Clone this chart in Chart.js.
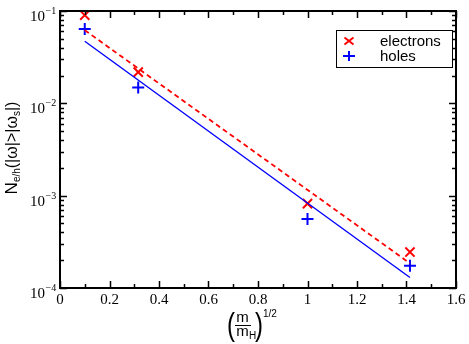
<!DOCTYPE html>
<html><head><meta charset="utf-8">
<script src="https://cdn.jsdelivr.net/npm/chart.js@4.4.0/dist/chart.umd.min.js"></script>
<style>html,body{margin:0;padding:0;background:#fff}canvas{display:block}</style>
</head><body><canvas id="c" width="469" height="344"></canvas>
<script>
// Data
const massRatioSqrt = [0.1, 0.316, 1.0, 1.414];
const electrons = [0.09, 0.0218, 0.00082, 0.000245];
const holes = [0.064, 0.0148, 0.00056, 0.000174];
const fitX = [0.1, 1.414];
const electronsFit = [0.062, 0.000185];
const holesFit = [0.047, 0.00013];
const xTickValues = [0, 0.2, 0.4, 0.6, 0.8, 1.0, 1.2, 1.4, 1.6];
const xTickLabels = ['0', '0.2', '0.4', '0.6', '0.8', '1', '1.2', '1.4', '1.6'];
const xMinorTicks = [0.1, 0.3, 0.5, 0.7, 0.9, 1.1, 1.3, 1.5];
const yDecadeExps = [-4, -3, -2, -1];
const legendLabels = ['electrons', 'holes'];

const RED = '#ff0000', BLUE = '#0000ff';
const pts = (xs, ys) => xs.map((x, i) => ({x, y: ys[i]}));

const decor = {
  id: 'decor',
  afterDraw(chart) {
    const ctx = chart.ctx, a = chart.chartArea;
    const xs = chart.scales.x, ys = chart.scales.y;
    ctx.save();
    // frame
    ctx.strokeStyle = '#000'; ctx.lineWidth = 2;
    ctx.strokeRect(a.left, a.top, a.right - a.left, a.bottom - a.top);
    ctx.lineWidth = 1.5;
    const MAJ = 7, MIN = 4;
    ctx.beginPath();
    xTickValues.forEach(v => {
      const p = Math.round(xs.getPixelForValue(v)) + 0.5;
      ctx.moveTo(p, a.bottom); ctx.lineTo(p, a.bottom - MAJ);
      ctx.moveTo(p, a.top); ctx.lineTo(p, a.top + MAJ);
    });
    xMinorTicks.forEach(v => {
      const p = Math.round(xs.getPixelForValue(v)) + 0.5;
      ctx.moveTo(p, a.bottom); ctx.lineTo(p, a.bottom - MIN);
      ctx.moveTo(p, a.top); ctx.lineTo(p, a.top + MIN);
    });
    yDecadeExps.forEach(e => {
      const p = Math.round(ys.getPixelForValue(Math.pow(10, e))) + 0.5;
      ctx.moveTo(a.left, p); ctx.lineTo(a.left + MAJ, p);
      ctx.moveTo(a.right, p); ctx.lineTo(a.right - MAJ, p);
      if (e < -1) {
        for (let m = 2; m <= 9; m++) {
          const q = Math.round(ys.getPixelForValue(m * Math.pow(10, e))) + 0.5;
          ctx.moveTo(a.left, q); ctx.lineTo(a.left + MIN, q);
          ctx.moveTo(a.right, q); ctx.lineTo(a.right - MIN, q);
        }
      }
    });
    ctx.stroke();

    // x tick labels
    ctx.fillStyle = '#000';
    ctx.font = '15px "Liberation Serif"';
    ctx.textAlign = 'center'; ctx.textBaseline = 'alphabetic';
    xTickValues.forEach((v, i) => {
      ctx.fillText(xTickLabels[i], xs.getPixelForValue(v), 304);
    });
    // y tick labels 10^e
    yDecadeExps.forEach(e => {
      const p = ys.getPixelForValue(Math.pow(10, e));
      ctx.font = '15px "Liberation Serif"';
      ctx.textAlign = 'right';
      ctx.fillText('10', 45, p + 10);
      ctx.font = '10px "Liberation Serif"';
      ctx.textAlign = 'left';
      ctx.fillText('\u2212' + Math.abs(e), 45.5, p + 3);
    });

    // y axis title (rotated)
    ctx.save();
    ctx.translate(17, 148);
    ctx.rotate(-Math.PI / 2);
    const parts = [
      {t: 'N', f: '17px "Liberation Sans"', dy: 0},
      {t: 'e/h', f: '10px "Liberation Sans"', dy: 3},
      {t: '(|\u03c9|>|\u03c9', f: '16px "Liberation Sans"', dy: 0},
      {t: 's', f: '10px "Liberation Sans"', dy: 3},
      {t: '|)', f: '16px "Liberation Sans"', dy: 0}
    ];
    let total = 0;
    parts.forEach(p => { ctx.font = p.f; p.w = ctx.measureText(p.t).width; total += p.w; });
    let cx = -total / 2;
    ctx.textAlign = 'left';
    parts.forEach(p => { ctx.font = p.f; ctx.fillText(p.t, cx, p.dy); cx += p.w; });
    ctx.restore();

    // x axis title: (m / m_H)^{1/2}
    ctx.save();
    ctx.textAlign = 'left';
    ctx.font = '24px "Liberation Sans"';
    ctx.translate(0, 335.3);
    ctx.scale(1, 1.29);
    ctx.fillText('(', 227, 0);
    ctx.fillText(')', 255, 0);
    ctx.restore();
    ctx.font = '15px "Liberation Sans"';
    ctx.textAlign = 'center';
    ctx.fillText('m', 242.5, 321.7);
    ctx.fillText('m', 242.5, 336);
    ctx.font = '10px "Liberation Sans"';
    ctx.textAlign = 'left';
    ctx.fillText('H', 249, 339);
    ctx.fillText('1/2', 263, 317);
    ctx.lineWidth = 1;
    ctx.beginPath(); ctx.moveTo(235, 325.5); ctx.lineTo(251, 325.5); ctx.stroke();

    // legend
    ctx.lineWidth = 1;
    ctx.strokeRect(336.5, 30.5, 116, 37);
    ctx.lineWidth = 2;
    ctx.strokeStyle = RED;
    ctx.beginPath();
    ctx.moveTo(344.5, 37.5); ctx.lineTo(353.5, 44.5);
    ctx.moveTo(353.5, 37.5); ctx.lineTo(344.5, 44.5);
    ctx.stroke();
    ctx.strokeStyle = BLUE;
    ctx.beginPath();
    ctx.moveTo(343, 56); ctx.lineTo(355, 56);
    ctx.moveTo(349, 51); ctx.lineTo(349, 61);
    ctx.stroke();
    ctx.fillStyle = '#000';
    ctx.font = '15px "Liberation Sans"';
    ctx.fillText(legendLabels[0], 380, 45.5);
    ctx.fillText(legendLabels[1], 380, 61);
    ctx.restore();
  }
};

new Chart(document.getElementById('c'), {
  type: 'scatter',
  data: {
    datasets: [
      {label: 'electrons fit', data: pts(fitX, electronsFit), showLine: true, borderColor: RED,
       borderWidth: 1.8, borderDash: [5, 3.5], pointRadius: 0, clip: false},
      {label: 'holes fit', data: pts(fitX, holesFit), showLine: true, borderColor: BLUE,
       borderWidth: 1.4, pointRadius: 0, clip: false},
      {label: 'electrons', data: pts(massRatioSqrt, electrons), showLine: false,
       pointStyle: 'crossRot', pointRadius: 6.5, borderColor: RED, borderWidth: 2, clip: false},
      {label: 'holes', data: pts(massRatioSqrt, holes), showLine: false,
       pointStyle: 'cross', pointRadius: 6, borderColor: BLUE, borderWidth: 2, clip: false}
    ]
  },
  options: {
    responsive: false, animation: false, devicePixelRatio: 1,
    layout: {padding: {left: 60, right: 13, top: 11, bottom: 56}},
    plugins: {legend: {display: false}, tooltip: {enabled: false}},
    scales: {
      x: {type: 'linear', min: 0, max: 1.6, display: false},
      y: {type: 'logarithmic', min: 1e-4, max: 1e-1, display: false}
    }
  },
  plugins: [decor]
});
</script>
</body></html>
